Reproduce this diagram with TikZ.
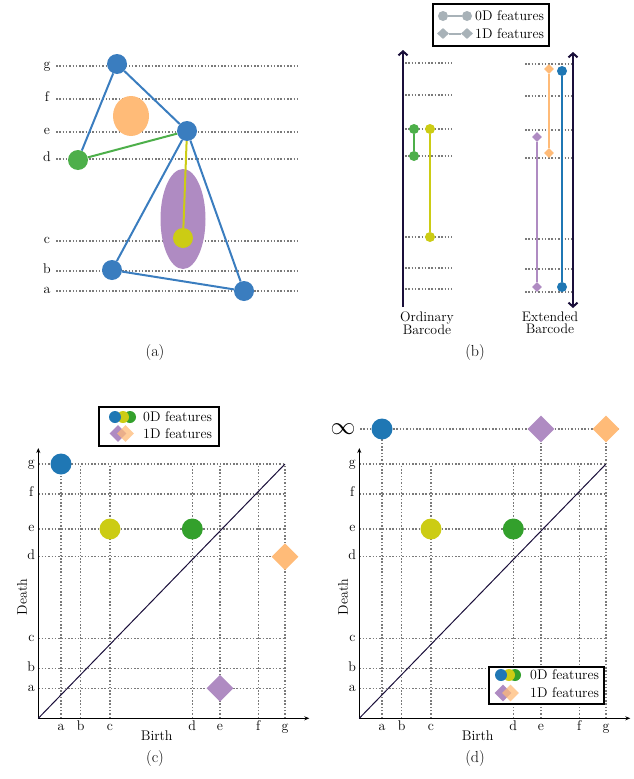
\documentclass[tikz,border=0pt]{standalone}
\usepackage{fontspec}
\usetikzlibrary{arrows.meta,shapes.geometric}
\definecolor{cblue}{HTML}{3A7DBF}
\definecolor{pblue}{HTML}{1F77B4}
\definecolor{cgreen}{HTML}{4DAF4A}
\definecolor{pgreen}{HTML}{33A02C}
\definecolor{cyellow}{HTML}{CCCC14}
\definecolor{corange}{HTML}{FFBB78}
\definecolor{cpurple}{HTML}{AF8BC2}
\definecolor{cnavy}{HTML}{1A0F3A}
\definecolor{cgrid}{HTML}{7A7A7A}
\definecolor{cgrey}{HTML}{A8B2B8}
\begin{document}
\begin{tikzpicture}[x=1pt,y=-1pt,
  gridline/.style={cgrid, line width=1.3pt, dash pattern=on 1.5pt off 1.8pt},
  vtx/.style={circle, inner sep=0pt, minimum size=20pt},
  lab/.style={font=\fontsize{14}{14}\selectfont, inner sep=0pt, text height=1.6ex, text depth=0.3ex},
  captext/.style={font=\fontsize{16}{16}\selectfont, inner sep=0pt},
  txt/.style={font=\fontsize{14}{14}\selectfont, inner sep=0pt},
  edgeline/.style={line width=2pt},
  bdot/.style={circle, inner sep=0pt, minimum size=10pt},
  bdia/.style={diamond, inner sep=0pt, minimum width=10pt, minimum height=10pt},
  barline/.style={line width=2.5pt},
  barrow/.style={cnavy, line width=2pt},
  pdot/.style={circle, inner sep=0pt, minimum size=21pt},
  pdia/.style={diamond, inner sep=0pt, minimum width=27pt, minimum height=27pt},
  axis/.style={black, line width=1pt, -{Stealth[length=5pt,width=4pt]}},
  legbox/.style={draw, line width=1.4pt, fill=white, inner sep=0pt},
  ldot/.style={circle, inner sep=0pt, minimum size=12pt},
  ldia/.style={diamond, inner sep=0pt, minimum width=17pt, minimum height=17pt},
  gdot/.style={circle, fill=cgrey, inner sep=0pt, minimum size=10pt},
  gdia/.style={diamond, fill=cgrey, inner sep=0pt, minimum width=12pt, minimum height=11pt}
]
\useasboundingbox (0,0) rectangle (634,779);

% ---------------- Panel (a) ----------------
\foreach \n/\y in {g/66,f/99,e/132,d/159,c/241,b/271,a/291}{
  \node[lab] (al\n) at (47,\y) {\n};
  \draw[gridline] (56,\y) -- (298,\y);
}
\node[ellipse, fill=corange, inner sep=0pt, minimum width=36pt, minimum height=40pt] (hole1) at (131,116) {};
\node[ellipse, fill=cpurple, inner sep=0pt, minimum width=45pt, minimum height=100pt] (hole2) at (183,219) {};
\node[vtx, fill=cblue] (vg) at (117,64) {};
\node[vtx, fill=cblue] (ve) at (187,131) {};
\node[vtx, fill=cgreen] (vd) at (78,160) {};
\node[vtx, fill=cyellow] (vc) at (183,238) {};
\node[vtx, fill=cblue] (vb) at (112,270) {};
\node[vtx, fill=cblue] (va) at (244,291) {};
\draw[edgeline, cblue] (vg) -- (vd);
\draw[edgeline, cblue] (vg) -- (ve);
\draw[edgeline, cblue] (ve) -- (vb);
\draw[edgeline, cblue] (ve) -- (va);
\draw[edgeline, cblue] (vb) -- (va);
\draw[edgeline, cgreen] (vd) -- (ve);
\draw[edgeline, cyellow] (ve) -- (vc);
\node[captext] (capa) at (155,353) {(a)};

% ---------------- Panel (b) ----------------
\node[legbox, minimum width=116pt, minimum height=42pt] (legb) at (491,25) {};
\node[gdot] (lg1) at (443,16) {};
\node[gdot] (lg2) at (467,16) {};
\draw[cgrey, line width=2pt] (lg1) -- (lg2);
\node[gdia] (lh1) at (443,33.5) {};
\node[gdia] (lh2) at (467,33.5) {};
\draw[cgrey, line width=2pt] (lh1) -- (lh2);
\node[txt, anchor=west] (lt1) at (475,16) {0D features};
\node[txt, anchor=west] (lt2) at (475,33.5) {1D features};

\foreach \y in {63,95,129,156,237,268,289}{
  \draw[gridline] (405,\y) -- (452,\y);
}
\foreach \y in {64,96,130,158,239,269,292}{
  \draw[gridline] (525,\y) -- (573,\y);
}
\coordinate (oa0) at (403,307);
\coordinate (oa1) at (403,50);
\draw[barrow, -{Straight Barb[length=4pt,width=9pt]}] (oa0) -- (oa1);
\coordinate (ea0) at (573,308);
\coordinate (ea1) at (573,52);
\draw[barrow, {Straight Barb[length=4pt,width=9pt]}-{Straight Barb[length=4pt,width=9pt]}] (ea0) -- (ea1);

\node[bdot, fill=cgreen] (bg1) at (414,129) {};
\node[bdot, fill=cgreen] (bg2) at (414,156) {};
\draw[barline, cgreen] (bg1) -- (bg2);
\node[bdot, fill=cyellow] (by1) at (430,129) {};
\node[bdot, fill=cyellow] (by2) at (430,237) {};
\draw[barline, cyellow] (by1) -- (by2);

\node[bdia, fill=corange] (bo1) at (549,69) {};
\node[bdia, fill=corange] (bo2) at (549,153) {};
\draw[barline, corange] (bo1) -- (bo2);
\node[bdot, fill=pblue] (bb1) at (562,71) {};
\node[bdot, fill=pblue] (bb2) at (562,287) {};
\draw[barline, pblue] (bb1) -- (bb2);
\node[bdia, fill=cpurple] (bp1) at (537,137) {};
\node[bdia, fill=cpurple] (bp2) at (537,287) {};
\draw[barline, cpurple] (bp1) -- (bp2);

\node[font=\fontsize{13.8}{12.5}\selectfont, inner sep=0pt, align=center] (ordl) at (427,323) {Ordinary\\Barcode};
\node[font=\fontsize{13.8}{12.5}\selectfont, inner sep=0pt, align=center] (extl) at (550,323) {Extended\\Barcode};
\node[captext] (capb) at (475,353) {(b)};

% ---------------- Panels (c) and (d): common grid ----------------
\foreach \ox/\pn in {38.3/c,359.3/d}{
  \foreach \n/\dx in {a/22.7,b/42.4,c/71.7,d/154,e/181.7,f/220,g/246.7}{
    \draw[gridline] (\ox+\dx,718) -- (\ox+\dx,464);
    \node[lab] (\pn-x\n) at (\ox+\dx,728) {\n};
  }
  \foreach \n/\y in {g/464,f/494,e/529,d/556.7,c/638.3,b/668.7,a/688.3}{
    \draw[gridline] (\ox,\y) -- (\ox+246.7,\y);
    \node[lab] (\pn-y\n) at (\ox-7,\y) {\n};
  }
  \coordinate (\pn-O) at (\ox,718.3);
  \coordinate (\pn-Y) at (\ox,448);
  \coordinate (\pn-X) at (\ox+271,718.3);
  \coordinate (\pn-D) at (\ox+246.7,464);
  \draw[axis] (\pn-O) -- (\pn-Y);
  \draw[axis] (\pn-O) -- (\pn-X);
  \draw[cnavy, line width=1pt] (\pn-O) -- (\pn-D);
  \node[txt] (\pn-birth) at (\ox+118.4,736) {Birth};
  \node[txt, rotate=90] (\pn-death) at (\ox-16.3,597) {Death};
  \node[pdot, fill=cyellow] (\pn-py) at (\ox+71.7,529) {};
  \node[pdot, fill=pgreen] (\pn-pg) at (\ox+154,529) {};
}

% ---------------- Panel (c) specifics ----------------
\node[pdot, fill=pblue] (c-pb) at (61,464) {};
\node[pdia, fill=corange] (c-po) at (285,556.7) {};
\node[pdia, fill=cpurple] (c-pp) at (220,688.3) {};
\node[legbox, minimum width=120pt, minimum height=39pt] (legc) at (159,426.5) {};
\node[ldot, fill=pgreen] (lc3) at (130,417) {};
\node[ldot, fill=cyellow] (lc2) at (123,417) {};
\node[ldot, fill=pblue] (lc1) at (115,417) {};
\node[ldia, fill=cpurple] (lc4) at (118,433.5) {};
\node[ldia, fill=corange, opacity=0.75] (lc5) at (125.5,433.5) {};
\node[txt, anchor=west] (lct1) at (143,417) {0D features};
\node[txt, anchor=west] (lct2) at (143,433.5) {1D features};
\node[captext] (capc) at (155,758) {(c)};

% ---------------- Panel (d) specifics ----------------
\foreach \dx in {22.7,181.7,246.7}{
  \draw[gridline] (359.3+\dx,464) -- (359.3+\dx,429);
}
\draw[gridline] (360,429) -- (620,429);
\node[font=\fontsize{23}{23}\selectfont, inner sep=0pt] (d-inf) at (343,429) {$\infty$};
\node[pdot, fill=pblue] (d-pb) at (382,429) {};
\node[pdia, fill=cpurple] (d-pp) at (541,429) {};
\node[pdia, fill=corange] (d-po) at (606,429) {};
\node[legbox, minimum width=115pt, minimum height=37pt] (legd) at (546.5,685.5) {};
\node[ldot, fill=pgreen] (ld3) at (515,675) {};
\node[ldot, fill=cyellow] (ld2) at (509,675) {};
\node[ldot, fill=pblue] (ld1) at (501,675) {};
\node[ldia, fill=cpurple] (ld4) at (503,693) {};
\node[ldia, fill=corange, opacity=0.75] (ld5) at (510.5,693) {};
\node[txt, anchor=west] (ldt1) at (530,675) {0D features};
\node[txt, anchor=west] (ldt2) at (530,693) {1D features};
\node[captext] (capd) at (475,758) {(d)};
\end{tikzpicture}
\end{document}
